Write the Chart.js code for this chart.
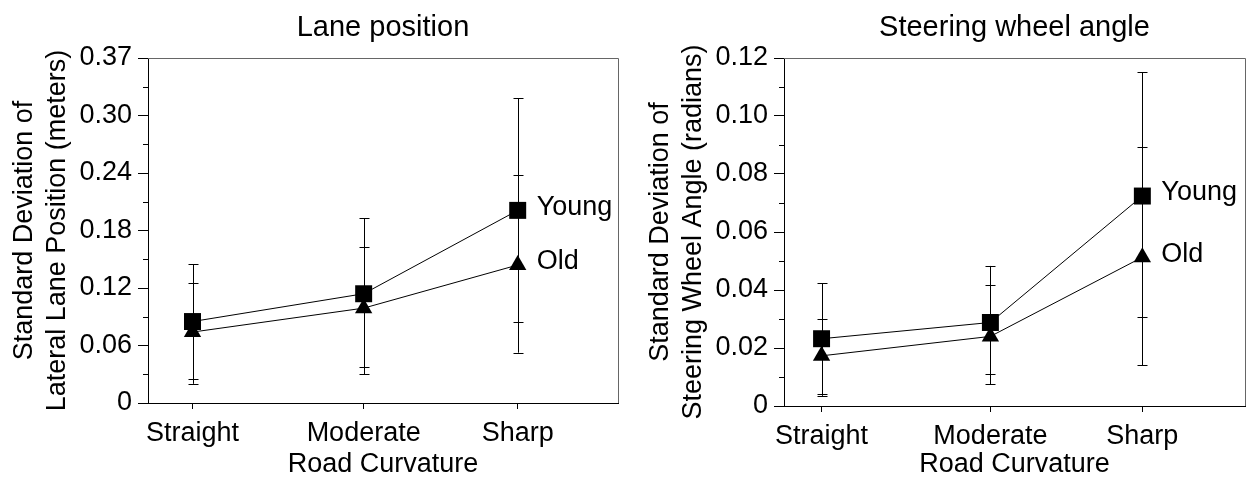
<!DOCTYPE html>
<html>
<head>
<meta charset="utf-8">
<script src="https://cdn.jsdelivr.net/npm/chart.js@4/dist/chart.umd.min.js"></script>
<style>
    body { margin: 0; background: #fff; overflow: hidden; }
    .box { position: absolute; top: 0; height: 481px; }
    #laneBox { left: 0; width: 630px; }
    #steerBox { left: 630px; width: 627px; }
</style>
</head>
<body>
<div class="box" id="laneBox"><canvas id="laneChart"></canvas></div>
<div class="box" id="steerBox"><canvas id="steerChart"></canvas></div>
<script>
const categories = ['Straight', 'Moderate', 'Sharp'];
const xPositions = [1, 2, 2.9];

// Lane position (meters)
const laneYoung = [0.085, 0.114, 0.201];
const laneYoungLow = [0.020, 0.030, 0.085];
const laneYoungHigh = [0.145, 0.193, 0.318];
const laneOld = [0.074, 0.099, 0.144];
const laneOldLow = [0.025, 0.038, 0.0525];
const laneOldHigh = [0.125, 0.163, 0.238];
const laneTicks = ['0', '0.06', '0.12', '0.18', '0.24', '0.30', '0.37'];

// Steering wheel angle (radians)
const steerYoung = [0.0232, 0.0288, 0.0724];
const steerYoungLow = [0.004, 0.0109, 0.0308];
const steerYoungHigh = [0.0424, 0.0483, 0.1151];
const steerOld = [0.0173, 0.0240, 0.0513];
const steerOldLow = [0.0035, 0.0075, 0.0141];
const steerOldHigh = [0.0301, 0.0417, 0.0892];
const steerTicks = ['0', '0.02', '0.04', '0.06', '0.08', '0.10', '0.12'];

const FONT = "'Liberation Sans', Arial, Helvetica, sans-serif";

const extras = {
    id: 'extras',
    afterDatasetsDraw(chart) {
        const ctx = chart.ctx;
        const xs = chart.scales.x, ys = chart.scales.y;
        const area = chart.chartArea;
        ctx.save();
        ctx.strokeStyle = '#000';
        ctx.lineWidth = 1;

        // error bars
        chart.data.datasets.forEach(ds => {
            ds.data.forEach((p, i) => {
                const px = Math.round(xs.getPixelForValue(p.x)) + 0.5;
                const lo = ys.getPixelForValue(ds.errLow[i]);
                const hi = ys.getPixelForValue(ds.errHigh[i]);
                ctx.beginPath();
                ctx.moveTo(px, hi); ctx.lineTo(px, lo);
                ctx.moveTo(px - 5, Math.round(hi) + 0.5); ctx.lineTo(px + 5, Math.round(hi) + 0.5);
                ctx.moveTo(px - 5, Math.round(lo) + 0.5); ctx.lineTo(px + 5, Math.round(lo) + 0.5);
                ctx.stroke();
            });
        });

        // minor y ticks
        const t = ys.ticks;
        ctx.beginPath();
        for (let i = 0; i < t.length - 1; i++) {
            const py = Math.round(ys.getPixelForValue((t[i].value + t[i + 1].value) / 2)) + 0.5;
            ctx.moveTo(area.left - 5, py); ctx.lineTo(area.left, py);
        }
        ctx.stroke();

        // top and right frame
        ctx.strokeStyle = '#666';
        ctx.beginPath();
        ctx.moveTo(area.left, Math.round(area.top) + 0.5);
        ctx.lineTo(Math.round(area.right) + 0.5, Math.round(area.top) + 0.5);
        ctx.lineTo(Math.round(area.right) + 0.5, area.bottom);
        ctx.stroke();

        // series names at the last point
        ctx.fillStyle = '#000';
        ctx.font = '27px ' + FONT;
        ctx.textBaseline = 'middle';
        ctx.textAlign = 'left';
        chart.data.datasets.forEach((ds, di) => {
            const pts = chart.getDatasetMeta(di).data;
            const last = pts[pts.length - 1];
            ctx.fillText(ds.label, last.x + 19, last.y - 3);
        });
        ctx.restore();
    }
};

function makeChart(id, title, yTitle, young, youngLow, youngHigh, old, oldLow, oldHigh, ticks, yMax, yStep, xMin, xMax, yWidth, xHeight, padRight, titlePad) {
    const toPoints = arr => arr.map((v, i) => ({ x: xPositions[i], y: v }));
    new Chart(document.getElementById(id), {
        type: 'line',
        data: {
            datasets: [{
                label: 'Young',
                data: toPoints(young),
                errLow: youngLow,
                errHigh: youngHigh,
                borderColor: '#000',
                backgroundColor: '#000',
                borderWidth: 1,
                pointStyle: 'rect',
                pointRadius: 12,
                pointBorderWidth: 0,
                tension: 0
            }, {
                label: 'Old',
                data: toPoints(old),
                errLow: oldLow,
                errHigh: oldHigh,
                borderColor: '#000',
                backgroundColor: '#000',
                borderWidth: 1,
                pointStyle: 'triangle',
                pointRadius: 10,
                pointBorderWidth: 0,
                tension: 0
            }]
        },
        options: {
            responsive: true,
            maintainAspectRatio: false,
            animation: false,
            layout: { padding: { top: 0, right: padRight, bottom: 0, left: 0 } },
            plugins: {
                legend: { display: false },
                tooltip: { enabled: false },
                title: {
                    display: true,
                    text: title,
                    fullSize: false,
                    color: '#000',
                    font: { family: FONT, size: 29, weight: 'normal' },
                    padding: { top: titlePad, bottom: 58 - titlePad - 34.8 }
                }
            },
            scales: {
                x: {
                    type: 'linear',
                    min: xMin,
                    max: xMax,
                    afterBuildTicks: s => { s.ticks = xPositions.map(v => ({ value: v })); },
                    afterFit: s => { s.height = xHeight; s.paddingLeft = 0; s.paddingRight = 0; },
                    ticks: {
                        color: '#000',
                        font: { family: FONT, size: 27 },
                        padding: 8,
                        callback: (v, i) => categories[i]
                    },
                    grid: { drawOnChartArea: false, tickLength: 6, tickColor: '#000' },
                    border: { color: '#000', width: 1 },
                    title: {
                        display: true,
                        text: 'Road Curvature',
                        color: '#000',
                        font: { family: FONT, size: 27 },
                        padding: { top: 0, bottom: 0 }
                    }
                },
                y: {
                    min: 0,
                    max: yMax,
                    afterFit: s => { s.width = yWidth; },
                    ticks: {
                        stepSize: yStep,
                        color: '#000',
                        font: { family: FONT, size: 27 },
                        padding: 6,
                        callback: (v, i) => ticks[i]
                    },
                    grid: { drawOnChartArea: false, tickLength: 10, tickColor: '#000' },
                    border: { color: '#000', width: 1 },
                    title: {
                        display: true,
                        text: yTitle,
                        color: '#000',
                        font: { family: FONT, size: 27, lineHeight: 1.22 },
                        padding: { top: yWidth - 148 + 8.5, bottom: 0 }
                    }
                }
            }
        },
        plugins: [extras]
    });
}

makeChart('laneChart', 'Lane position',
    ['Standard Deviation of', 'Lateral Lane Position (meters)'],
    laneYoung, laneYoungLow, laneYoungHigh, laneOld, laneOldLow, laneOldHigh,
    laneTicks, 0.36, 0.06, 0.74, 3.486, 148, 78, 7, 11);

makeChart('steerChart', 'Steering wheel angle',
    ['Standard Deviation of', 'Steering Wheel Angle (radians)'],
    steerYoung, steerYoungLow, steerYoungHigh, steerOld, steerOldLow, steerOldHigh,
    steerTicks, 0.12, 0.02, 0.7775, 3.508, 154, 75, 1, 11);
</script>
</body>
</html>
